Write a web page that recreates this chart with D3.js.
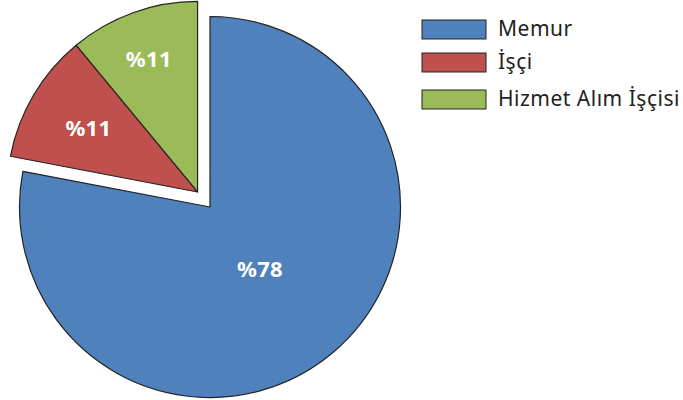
<!DOCTYPE html>
<html>
<head>
<meta charset="utf-8">
<script src="https://cdn.jsdelivr.net/npm/d3@7"></script>
<style>
  body { margin: 0; background: #fff; }
  text { font-family: "Noto Sans", "Open Sans", sans-serif; }
</style>
</head>
<body>
<div id="chart"></div>
<script>
// chart data
var categories = ["Memur", "İşçi", "Hizmet Alım İşçisi"];
var values = [78, 11, 11];
var labels = ["%78", "%11", "%11"];
var colors = ["#4F81BD", "#C0504D", "#9BBB59"];

var width = 683, height = 400;
var svg = d3.select("#chart").append("svg")
  .attr("width", width)
  .attr("height", height);

var radius = 190.5;
var center = [210, 207];
// the two small slices are pulled out together
var explode = 19.5;

var pie = d3.pie().sort(null).value(function (d) { return d; });
var arcs = pie(values);
var arc = d3.arc().innerRadius(0).outerRadius(radius);

var groupMid = (arcs[1].startAngle + arcs[2].endAngle) / 2;
var smallCenter = [
  center[0] + explode * Math.sin(groupMid),
  center[1] - explode * Math.cos(groupMid)
];
var labelFrac = [0.42, 0.66, 0.74];

var slices = svg.selectAll(".slice")
  .data(arcs)
  .enter()
  .append("g")
  .attr("class", "slice")
  .attr("transform", function (d, i) {
    var c = i === 0 ? center : smallCenter;
    return "translate(" + c[0] + "," + c[1] + ")";
  });

slices.append("path")
  .attr("d", arc)
  .attr("fill", function (d, i) { return colors[i]; })
  .attr("stroke", "#222")
  .attr("stroke-width", 1.2)
  .attr("stroke-linejoin", "round");

slices.append("text")
  .attr("transform", function (d, i) {
    var a = (d.startAngle + d.endAngle) / 2;
    var r = radius * labelFrac[i];
    return "translate(" + (r * Math.sin(a) - 1) + "," + (-r * Math.cos(a)) + ")";
  })
  .attr("text-anchor", "middle")
  .attr("dy", "0.36em")
  .attr("fill", "#fff")
  .attr("font-weight", "bold")
  .attr("font-size", "22px")
  .attr("letter-spacing", "0.3px")
  .text(function (d, i) { return labels[i]; });

// legend
var legend = svg.append("g")
  .attr("transform", "translate(422,20)")
  .selectAll("g")
  .data(categories)
  .enter()
  .append("g")
  .attr("transform", function (d, i) {
    return "translate(0," + [0, 33, 70][i] + ")";
  });

legend.append("rect")
  .attr("width", 64)
  .attr("height", 19)
  .attr("fill", function (d, i) { return colors[i]; })
  .attr("stroke", "#222")
  .attr("stroke-width", 1);

legend.append("text")
  .attr("x", 76)
  .attr("y", 16)
  .attr("font-size", "21px")
  .attr("letter-spacing", "0.5px")
  .attr("fill", "#222")
  .text(function (d) { return d; });
</script>
</body>
</html>
